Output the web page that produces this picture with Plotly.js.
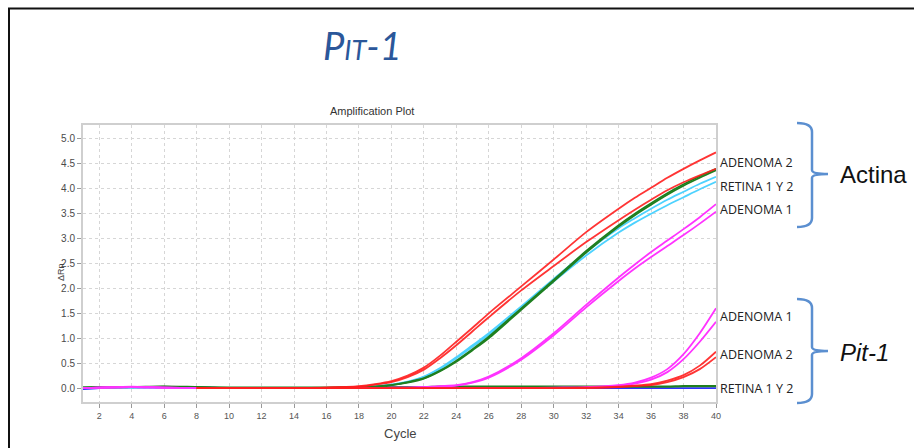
<!DOCTYPE html>
<html>
<head>
<meta charset="utf-8">
<script src="https://cdn.plot.ly/plotly-3.0.1.min.js"></script>
<style>html,body{margin:0;padding:0;background:#fff;}#chart{width:914px;height:448px;}</style>
</head>
<body>
<div id="chart"></div>
<script>
// Cycle numbers where values were read
const cycles = [1,2,4,6,8,10,12,14,16,18,19,20,21,22,23,24,25,26,28,30,32,34,35,36,37,38,39,40];

// Actina (beta-actin) curves
const actinaAdenoma2A = [null,null,null,null,0,0,0,0,0.01, 0.04,0.08,0.14,0.25,0.41,0.65,0.93,1.21,1.50, 2.04,2.58,3.13,3.60,3.82,4.02,4.22,4.40,4.57,4.73];
const actinaAdenoma2B = [null,null,null,null,0,0,0,0,0.01, 0.03,0.07,0.12,0.22,0.37,0.60,0.86,1.14,1.42, 1.96,2.45,2.93,3.37,3.58,3.78,3.97,4.13,4.27,4.40];
const actinaRetinaG1  = [0.01,0.02,0.02,0.02,0.01,0,0,0,0, 0.02,0.03,0.06,0.12,0.20,0.35,0.55,0.78,1.03, 1.60,2.17,2.75,3.27,3.50,3.71,3.91,4.09,4.25,4.40];
const actinaRetinaG2  = [0.01,0.01,0.02,0.03,0.01,0,0,0,0, 0.02,0.03,0.06,0.11,0.19,0.34,0.53,0.76,1.00, 1.57,2.14,2.72,3.24,3.47,3.68,3.88,4.06,4.22,4.37];
const actinaRetinaC1  = [0,0.01,0.01,0.01,0,0,0,0,0, 0.02,0.04,0.07,0.13,0.23,0.40,0.62,0.86,1.10, 1.64,2.19,2.73,3.21,3.41,3.60,3.78,3.94,4.10,4.24];
const actinaRetinaC2  = [0,0.01,0.01,0.01,0,0,0,0,0, 0.02,0.04,0.07,0.12,0.22,0.38,0.60,0.83,1.07, 1.60,2.14,2.66,3.12,3.32,3.50,3.67,3.83,3.99,4.14];
const actinaAdenoma1A = [0,0.01,0.02,0.01,0,0,0,0,0, 0,0,0.01,0.01,0.02,0.04,0.06,0.12,0.23, 0.60,1.10,1.67,2.22,2.48,2.73,2.96,3.19,3.43,3.69];
const actinaAdenoma1B = [0,0.01,0.02,0.01,0,0,0,0,0, 0,0,0.01,0.01,0.02,0.03,0.05,0.11,0.21, 0.57,1.06,1.62,2.15,2.40,2.63,2.85,3.07,3.30,3.54];

// Pit-1 curves
const pit1Adenoma1A = [0,0.01,0.03,0.01,0,0,0,0,0, 0,0,0,0,0,0,0,0,0, 0,0.01,0.02,0.06,0.11,0.21,0.38,0.68,1.10,1.60];
const pit1Adenoma1B = [0,0.01,0.02,0.01,0,0,0,0,0, 0,0,0,0,0,0,0,0,0, 0,0,0.01,0.05,0.09,0.17,0.32,0.58,0.93,1.33];
const pit1Adenoma2A = [null,null,null,null,0,0,0,0,0, 0,0,0,0,0,0,0,0,0, 0,0,0.01,0.03,0.05,0.08,0.15,0.26,0.45,0.73];
const pit1Adenoma2B = [null,null,null,null,0,0,0,0,0, 0,0,0,0,0,0,0,0,0, 0,0,0,0.02,0.04,0.06,0.12,0.22,0.38,0.62];
const pit1RetinaG   = [0.01,0.02,0.02,0.03,0.02,0.01,0.01,0.01,0.01, 0.02,0.02,0.02,0.02,0.02,0.03,0.03,0.03,0.03, 0.03,0.03,0.03,0.03,0.03,0.03,0.03,0.04,0.04,0.04];
const pit1RetinaB   = [-0.02,0,0.02,0.01,0.02,0,0,0,0, 0,0,0,0,0,0,0,0,0, 0,0,0,0,0,0,0,0,0,0];

const xTicks = [2,4,6,8,10,12,14,16,18,20,22,24,26,28,30,32,34,36,38,40];

const RED = 'rgba(255,30,30,0.9)', GREEN = '#1f7f1f', CYAN = '#4dd2ff', MAGENTA = '#ff33ff', BLUE = '#3030ff';

function tr(y, color, w) {
  return {x: cycles, y: y, type: 'scatter', mode: 'lines', connectgaps: false,
          line: {color: color, width: w || 1.8, shape: 'spline', smoothing: 0.8}, hoverinfo: 'skip', showlegend: false};
}

const data = [
  tr(pit1RetinaB, BLUE),
  tr(pit1RetinaG, GREEN, 2.2),
  tr(actinaRetinaC1, CYAN),
  tr(actinaRetinaC2, CYAN),
  tr(actinaRetinaG1, GREEN),
  tr(actinaRetinaG2, GREEN),
  tr(pit1Adenoma1A, MAGENTA),
  tr(pit1Adenoma1B, MAGENTA),
  tr(actinaAdenoma1A, MAGENTA),
  tr(actinaAdenoma1B, MAGENTA),
  tr(pit1Adenoma2A, RED),
  tr(pit1Adenoma2B, RED),
  tr(actinaAdenoma2B, RED),
  tr(actinaAdenoma2A, RED)
];

// pixel -> paper helpers (plot area 83..716 x 125..402)
const L = 83, R = 716, T = 125, B = 402;
const px = x => (x - L) / (R - L);
const py = y => (B - y) / (B - T);

function brace(top, mid, bot) {
  const x0 = 797, xv = 812, xt = 828;
  return 'M' + px(x0) + ',' + py(top) +
    ' Q' + px(xv) + ',' + py(top) + ' ' + px(xv) + ',' + py(top + 9) +
    ' L' + px(xv) + ',' + py(mid - 4) +
    ' Q' + px(xv) + ',' + py(mid) + ' ' + px(xt) + ',' + py(mid) +
    ' Q' + px(xv) + ',' + py(mid) + ' ' + px(xv) + ',' + py(mid + 4) +
    ' L' + px(xv) + ',' + py(bot - 9) +
    ' Q' + px(xv) + ',' + py(bot) + ' ' + px(x0) + ',' + py(bot);
}

const labelFont = {family: 'Open Sans, sans-serif', size: 12.5, color: '#222'};
function lab(text, y) {
  return {text: text, xref: 'paper', yref: 'paper', x: px(718), y: py(y), xanchor: 'left', yanchor: 'middle', showarrow: false, font: labelFont};
}

const layout = {
  width: 914, height: 448,
  margin: {l: L, r: 914 - R, t: T, b: 448 - B},
  paper_bgcolor: '#fff', plot_bgcolor: '#fff',
  showlegend: false,
  xaxis: {
    range: [1, 40], tickvals: xTicks, ticks: 'outside', ticklen: 4, tickcolor: '#999',
    tickfont: {family: 'Liberation Sans, Arial, sans-serif', size: 9, color: '#555'},
    showline: true, mirror: true, linecolor: '#cfcfcf', linewidth: 2,
    showgrid: true, gridcolor: '#d6d6d6', griddash: 'dot', zeroline: false
  },
  yaxis: {
    range: [-0.28, 5.28], dtick: 0.5, tick0: 0, tickformat: '.1f', ticks: 'outside', ticklen: 4, tickcolor: '#999',
    tickfont: {family: 'Liberation Sans, Arial, sans-serif', size: 10, color: '#4a4a4a'},
    showline: true, mirror: true, linecolor: '#cfcfcf', linewidth: 2,
    showgrid: true, gridcolor: '#d6d6d6', griddash: 'dot', zeroline: false
  },
  shapes: [
    {type: 'line', xref: 'paper', yref: 'paper', x0: px(8), x1: px(916), y0: py(8.5), y1: py(8.5), line: {color: '#111', width: 2}},
    {type: 'line', xref: 'paper', yref: 'paper', x0: px(9), x1: px(9), y0: py(8), y1: py(450), line: {color: '#111', width: 2}},
    {type: 'path', xref: 'paper', yref: 'paper', path: brace(123, 174, 227), line: {color: '#5b8fd0', width: 2.5}},
    {type: 'path', xref: 'paper', yref: 'paper', path: brace(299, 351, 403), line: {color: '#5b8fd0', width: 2.5}}
  ],
  annotations: [
    {text: '<i>P<span style="font-size:27px">IT</span>-1</i>', xref: 'paper', yref: 'paper', x: px(321), y: py(45), xanchor: 'left', yanchor: 'middle', showarrow: false,
     font: {family: 'Lato, sans-serif', size: 38, color: '#2b579a'}},
    {text: 'Amplification Plot', xref: 'paper', yref: 'paper', x: px(372), y: py(111), xanchor: 'center', yanchor: 'middle', showarrow: false,
     font: {family: 'Liberation Sans, Arial, sans-serif', size: 11, color: '#333'}},
    {text: 'Cycle', xref: 'paper', yref: 'paper', x: px(400), y: py(433), xanchor: 'center', yanchor: 'middle', showarrow: false,
     font: {family: 'Liberation Sans, Arial, sans-serif', size: 13, color: '#444'}},
    {text: 'ΔRn', xref: 'paper', yref: 'paper', x: px(61), y: py(272), xanchor: 'center', yanchor: 'middle', showarrow: false, textangle: -90,
     font: {family: 'Liberation Sans, Arial, sans-serif', size: 9, color: '#444'}},
    lab('ADENOMA 2', 162), lab('RETINA 1 Y 2', 186), lab('ADENOMA 1', 209),
    lab('ADENOMA 1', 316), lab('ADENOMA 2', 354), lab('RETINA 1 Y 2', 388),
    {text: 'Actina', xref: 'paper', yref: 'paper', x: px(838), y: py(174), xanchor: 'left', yanchor: 'middle', showarrow: false,
     font: {family: 'Liberation Sans, Arial, sans-serif', size: 24, color: '#111'}},
    {text: '<i>Pit-1</i>', xref: 'paper', yref: 'paper', x: px(838), y: py(352), xanchor: 'left', yanchor: 'middle', showarrow: false,
     font: {family: 'Liberation Sans, Arial, sans-serif', size: 24, color: '#111'}}
  ]
};

Plotly.newPlot('chart', data, layout, {staticPlot: true, displayModeBar: false});
</script>
</body>
</html>
